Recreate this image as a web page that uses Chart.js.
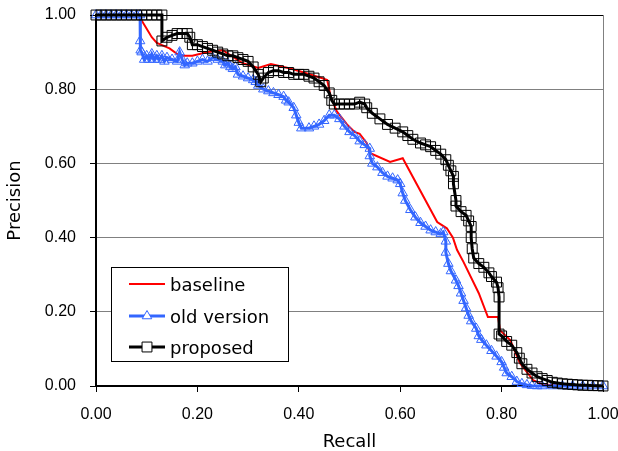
<!DOCTYPE html>
<html>
<head>
<meta charset="utf-8">
<script src="https://cdn.jsdelivr.net/npm/chart.js@4.4.1/dist/chart.umd.min.js"></script>
<style>
    body { margin: 0; background: #ffffff; }
</style>
</head>
<body>
<canvas id="graph" width="618" height="451"></canvas>
<script>
// Dados das curvas (recall, precision)
var seriesNames = ['baseline', 'old version', 'proposed'];

var baselineRecall = [0, 0.087, 0.088, 0.11, 0.12, 0.145, 0.165, 0.19, 0.22, 0.25, 0.29, 0.32, 0.345, 0.385, 0.41, 0.445, 0.456, 0.463, 0.475, 0.495, 0.51, 0.52, 0.534, 0.54, 0.58, 0.605, 0.673, 0.692, 0.704, 0.712, 0.725, 0.755, 0.773, 0.793, 0.797, 0.817, 0.836, 0.862, 0.88, 0.92, 1.0];
var baselinePrecision = [1, 1, 0.99, 0.94, 0.925, 0.91, 0.89, 0.89, 0.9, 0.905, 0.87, 0.857, 0.868, 0.855, 0.845, 0.83, 0.825, 0.78, 0.74, 0.705, 0.685, 0.68, 0.655, 0.628, 0.604, 0.614, 0.442, 0.425, 0.4, 0.367, 0.334, 0.25, 0.186, 0.186, 0.15, 0.124, 0.062, 0.016, 0.005, 0, 0];

var oldRecall = [0, 0.01, 0.02, 0.03, 0.04, 0.05, 0.06, 0.07, 0.08, 0.087, 0.087, 0.088, 0.09, 0.095, 0.1, 0.105, 0.11, 0.115, 0.12, 0.125, 0.13, 0.135, 0.14, 0.15, 0.16, 0.165, 0.17, 0.175, 0.18, 0.19, 0.2, 0.21, 0.22, 0.23, 0.24, 0.25, 0.255, 0.26, 0.265, 0.27, 0.275, 0.28, 0.29, 0.3, 0.31, 0.315, 0.32, 0.33, 0.34, 0.35, 0.36, 0.37, 0.375, 0.38, 0.39, 0.395, 0.4, 0.405, 0.42, 0.43, 0.44, 0.45, 0.46, 0.47, 0.48, 0.49, 0.5, 0.51, 0.52, 0.53, 0.54, 0.54, 0.545, 0.555, 0.565, 0.575, 0.585, 0.595, 0.6, 0.605, 0.61, 0.62, 0.63, 0.64, 0.65, 0.66, 0.67, 0.68, 0.685, 0.69, 0.69, 0.695, 0.7, 0.71, 0.715, 0.72, 0.725, 0.73, 0.735, 0.74, 0.75, 0.755, 0.76, 0.77, 0.78, 0.79, 0.8, 0.805, 0.81, 0.82, 0.83, 0.84, 0.85, 0.86, 0.87, 0.88, 0.9, 0.92, 0.94, 0.96, 0.98, 1.0];
var oldPrecision = [1, 1, 1, 1, 1, 1, 1, 1, 1, 1, 0.93, 0.905, 0.9, 0.88, 0.89, 0.88, 0.895, 0.88, 0.89, 0.88, 0.89, 0.875, 0.885, 0.88, 0.875, 0.9, 0.88, 0.865, 0.87, 0.87, 0.875, 0.88, 0.875, 0.885, 0.88, 0.875, 0.865, 0.87, 0.86, 0.855, 0.86, 0.84, 0.835, 0.83, 0.825, 0.82, 0.81, 0.8, 0.795, 0.79, 0.785, 0.78, 0.77, 0.765, 0.75, 0.73, 0.71, 0.695, 0.695, 0.7, 0.705, 0.715, 0.73, 0.73, 0.72, 0.7, 0.685, 0.675, 0.66, 0.65, 0.64, 0.62, 0.6, 0.59, 0.575, 0.565, 0.56, 0.555, 0.545, 0.52, 0.5, 0.475, 0.455, 0.44, 0.43, 0.42, 0.415, 0.41, 0.415, 0.39, 0.36, 0.33, 0.31, 0.285, 0.27, 0.25, 0.23, 0.21, 0.19, 0.175, 0.155, 0.135, 0.125, 0.11, 0.095, 0.08, 0.065, 0.05, 0.035, 0.025, 0.012, 0.006, 0.003, 0.001, 0, 0, 0, 0, 0, 0, 0, 0];

var proposedRecall = [0, 0.01, 0.02, 0.03, 0.04, 0.05, 0.06, 0.07, 0.08, 0.09, 0.1, 0.11, 0.12, 0.13, 0.13, 0.14, 0.15, 0.16, 0.17, 0.18, 0.185, 0.19, 0.2, 0.21, 0.22, 0.23, 0.24, 0.25, 0.26, 0.27, 0.28, 0.29, 0.3, 0.31, 0.32, 0.325, 0.33, 0.34, 0.35, 0.36, 0.37, 0.38, 0.39, 0.4, 0.41, 0.42, 0.43, 0.44, 0.45, 0.46, 0.465, 0.47, 0.48, 0.49, 0.5, 0.51, 0.52, 0.53, 0.534, 0.545, 0.56, 0.575, 0.59, 0.605, 0.615, 0.625, 0.64, 0.65, 0.66, 0.67, 0.68, 0.69, 0.695, 0.7, 0.705, 0.705, 0.71, 0.71, 0.72, 0.73, 0.735, 0.74, 0.74, 0.742, 0.745, 0.755, 0.765, 0.775, 0.78, 0.79, 0.793, 0.795, 0.795, 0.8, 0.81, 0.82, 0.83, 0.835, 0.84, 0.85, 0.86, 0.87, 0.88, 0.89, 0.9, 0.91, 0.92, 0.93, 0.94, 0.95, 0.96, 0.97, 0.98, 0.99, 1.0];
var proposedPrecision = [1, 1, 1, 1, 1, 1, 1, 1, 1, 1, 1, 1, 1, 1, 0.93, 0.94, 0.945, 0.95, 0.95, 0.95, 0.94, 0.92, 0.92, 0.915, 0.91, 0.905, 0.9, 0.895, 0.89, 0.89, 0.885, 0.88, 0.875, 0.86, 0.84, 0.82, 0.83, 0.845, 0.85, 0.85, 0.845, 0.845, 0.84, 0.84, 0.84, 0.835, 0.83, 0.82, 0.81, 0.79, 0.77, 0.76, 0.76, 0.76, 0.76, 0.76, 0.765, 0.76, 0.75, 0.735, 0.72, 0.705, 0.695, 0.685, 0.675, 0.665, 0.655, 0.65, 0.645, 0.635, 0.625, 0.61, 0.595, 0.58, 0.565, 0.545, 0.5, 0.485, 0.47, 0.46, 0.445, 0.43, 0.4, 0.37, 0.345, 0.33, 0.32, 0.305, 0.295, 0.28, 0.265, 0.24, 0.14, 0.135, 0.12, 0.11, 0.09, 0.075, 0.06, 0.045, 0.035, 0.025, 0.02, 0.015, 0.01, 0.008, 0.006, 0.005, 0.004, 0.003, 0.002, 0.002, 0.001, 0.001, 0];

var axisTicks = [0, 0.2, 0.4, 0.6, 0.8, 1.0];

function toPoints(xs, ys) {
    return xs.map(function (x, i) { return { x: x, y: ys[i] }; });
}

Chart.defaults.font.family = '"Liberation Sans", Arial, sans-serif';
Chart.defaults.color = '#000000';

// Borda do gráfico (direita cinza)
var plotFrame = {
    id: 'plotFrame',
    beforeDatasetsDraw: function (chart) {
        var a = chart.chartArea, ctx = chart.ctx;
        ctx.save();
        ctx.lineWidth = 1;
        ctx.strokeStyle = '#808080';
        ctx.beginPath();
        ctx.moveTo(a.right + 0.5, a.top);
        ctx.lineTo(a.right + 0.5, a.bottom);
        ctx.stroke();
        ctx.restore();
    }
};

// Legenda dentro da área do gráfico
var legendBox = {
    id: 'legendBox',
    afterDraw: function (chart) {
        var ctx = chart.ctx;
        var rows = [284, 316, 347];
        ctx.save();
        ctx.fillStyle = '#ffffff';
        ctx.fillRect(111, 267, 178, 95);
        ctx.strokeStyle = '#000000';
        ctx.lineWidth = 1;
        ctx.strokeRect(111.5, 267.5, 177, 94);
        chart.data.datasets.forEach(function (ds, i) {
            var y = rows[i];
            ctx.strokeStyle = ds.borderColor;
            ctx.lineWidth = ds.borderWidth;
            ctx.beginPath();
            ctx.moveTo(129, y);
            ctx.lineTo(165, y);
            ctx.stroke();
            if (ds.pointRadius > 0) {
                ctx.fillStyle = '#ffffff';
                ctx.lineWidth = 1;
                ctx.strokeStyle = ds.pointBorderColor;
                Chart.helpers.drawPoint(ctx, { pointStyle: ds.pointStyle, radius: ds.pointRadius, borderWidth: 1, rotation: 0 }, 147, y);
            }
            ctx.fillStyle = '#000000';
            ctx.font = '18px "DejaVu Sans"';
            ctx.textAlign = 'left';
            ctx.textBaseline = 'alphabetic';
            ctx.fillText(seriesNames[i], 170, y + 7);
        });
        ctx.restore();
    }
};

function fixWidth(w) {
    return function (scale) {
        scale.width = w;
        scale.paddingTop = 0; scale.paddingBottom = 0;
    };
}
function fixHeight(h) {
    return function (scale) {
        scale.height = h;
        scale.paddingLeft = 0; scale.paddingRight = 0;
    };
}

var ctx = document.getElementById('graph').getContext('2d');
var chart = new Chart(ctx, {
    type: 'scatter',
    data: {
        datasets: [
            {
                label: seriesNames[0],
                data: toPoints(baselineRecall, baselinePrecision),
                showLine: true,
                borderColor: '#ff0000',
                backgroundColor: '#ff0000',
                borderWidth: 2,
                pointRadius: 0,
                pointHoverRadius: 0,
                order: 3
            },
            {
                label: seriesNames[1],
                data: toPoints(oldRecall, oldPrecision),
                showLine: true,
                borderColor: '#3366ff',
                backgroundColor: 'rgba(0,0,0,0)',
                borderWidth: 3,
                pointStyle: 'triangle',
                pointRadius: 5.5,
                pointBorderWidth: 1,
                pointBorderColor: '#3366ff',
                pointBackgroundColor: 'rgba(0,0,0,0)',
                order: 2
            },
            {
                label: seriesNames[2],
                data: toPoints(proposedRecall, proposedPrecision),
                showLine: true,
                borderColor: '#000000',
                backgroundColor: 'rgba(0,0,0,0)',
                borderWidth: 3,
                pointStyle: 'rect',
                pointRadius: 7,
                pointBorderWidth: 1,
                pointBorderColor: '#000000',
                pointBackgroundColor: 'rgba(0,0,0,0)',
                order: 1
            }
        ]
    },
    options: {
        responsive: false,
        animation: false,
        clip: 10,
        layout: { padding: { top: 15, right: 15, left: 0, bottom: 0 } },
        elements: { line: { tension: 0 } },
        scales: {
            x: {
                type: 'linear',
                min: 0,
                max: 1,
                afterBuildTicks: function (scale) {
                    scale.ticks = axisTicks.map(function (v) { return { value: v }; });
                },
                afterFit: fixHeight(65),
                ticks: {
                    font: { size: 16 },
                    padding: 13,
                    maxRotation: 0,
                    autoSkip: false,
                    callback: function (v) { return v.toFixed(2); }
                },
                grid: {
                    drawOnChartArea: false,
                    tickLength: 6,
                    tickColor: '#000000',
                    color: '#000000'
                },
                border: { display: true, color: '#000000', width: 2 },
                title: {
                    display: true,
                    text: 'Recall',
                    font: { family: '"DejaVu Sans"', size: 18 },
                    padding: { top: 0, bottom: -2 }
                }
            },
            y: {
                type: 'linear',
                min: 0,
                max: 1,
                afterBuildTicks: function (scale) {
                    scale.ticks = axisTicks.map(function (v) { return { value: v }; });
                },
                afterFit: fixWidth(96),
                ticks: {
                    font: { size: 16 },
                    padding: 14,
                    autoSkip: false,
                    callback: function (v) { return v.toFixed(2); }
                },
                grid: {
                    tickLength: 6,
                    tickColor: '#000000',
                    color: function (c) { return c.tick && c.tick.value === 1 ? '#000000' : '#808080'; }
                },
                border: { display: true, color: '#000000', width: 2 },
                title: {
                    display: true,
                    text: 'Precision',
                    font: { family: '"DejaVu Sans"', size: 18 },
                    padding: { top: 5, bottom: 0 }
                }
            }
        },
        plugins: {
            legend: { display: false },
            tooltip: { enabled: false }
        }
    },
    plugins: [plotFrame, legendBox]
});
</script>
</body>
</html>
